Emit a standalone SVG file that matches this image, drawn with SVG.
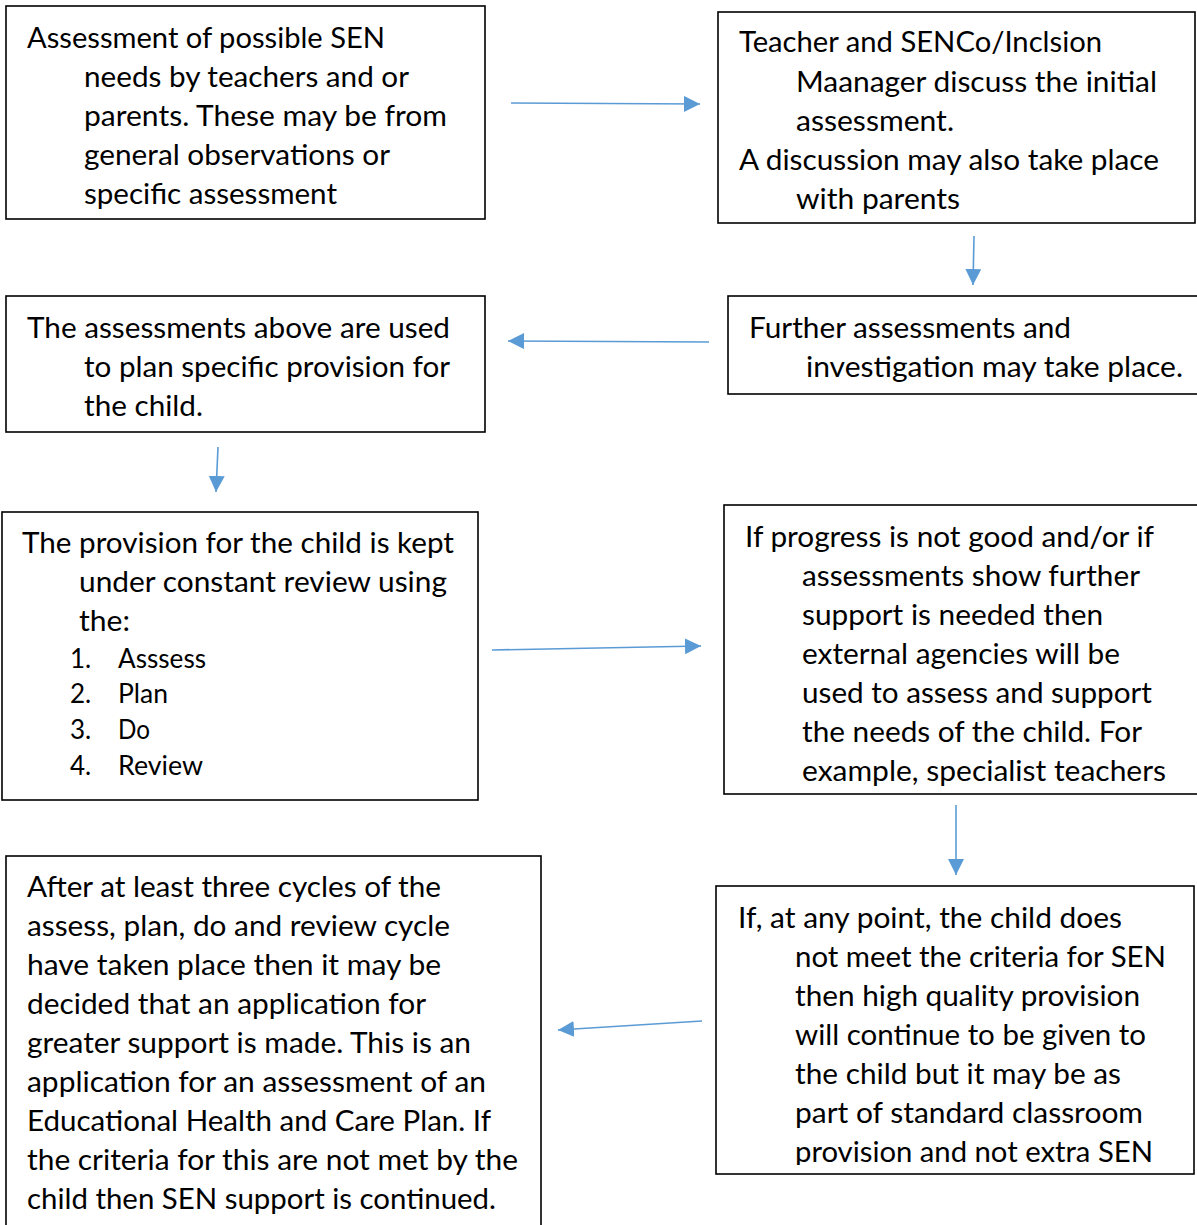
<svg xmlns="http://www.w3.org/2000/svg" width="1197" height="1225" viewBox="0 0 1197 1225">
<style>
.box{fill:#fff;stroke:#000;stroke-width:1.6}
text{font-family:Lato,"Open Sans",sans-serif;font-size:28px;fill:#000}
.li{font-size:26px}
.conn{stroke:#5B9BD5;stroke-width:1.6;fill:none;marker-end:url(#ah)}
</style>
<defs>
<marker id="ah" markerUnits="userSpaceOnUse" markerWidth="16" markerHeight="16" refX="16" refY="8" orient="auto">
<path d="M0,0 L16,8 L0,16 z" fill="#5B9BD5"/>
</marker>
<clipPath id="c6"><rect x="724" y="505" width="480" height="281"/></clipPath>
<clipPath id="c8"><rect x="716" y="886" width="480" height="279"/></clipPath>
<clipPath id="c7"><rect x="6" y="856" width="536" height="369"/></clipPath>
</defs>
<rect width="1197" height="1225" fill="#fff"/>

<g id="n1">
<rect class="box" x="6" y="6" width="479" height="213"/>
<text x="27" y="48" textLength="358" lengthAdjust="spacingAndGlyphs">Assessment of possible SEN</text>
<text x="84" y="87" textLength="325" lengthAdjust="spacingAndGlyphs">needs by teachers and or</text>
<text x="84" y="126" textLength="363" lengthAdjust="spacingAndGlyphs">parents. These may be from</text>
<text x="84" y="165" textLength="306" lengthAdjust="spacingAndGlyphs">general observations or</text>
<text x="84" y="204" textLength="253" lengthAdjust="spacingAndGlyphs">specific assessment</text>
</g>

<g id="n2">
<rect class="box" x="718" y="12" width="477" height="211"/>
<text x="739" y="52" textLength="363" lengthAdjust="spacingAndGlyphs">Teacher and SENCo/Inclsion</text>
<text x="796" y="92" textLength="361" lengthAdjust="spacingAndGlyphs">Maanager discuss the initial</text>
<text x="796" y="131" textLength="158" lengthAdjust="spacingAndGlyphs">assessment.</text>
<text x="739" y="170" textLength="420" lengthAdjust="spacingAndGlyphs">A discussion may also take place</text>
<text x="796" y="209" textLength="164" lengthAdjust="spacingAndGlyphs">with parents</text>
</g>

<g id="n3">
<rect class="box" x="728" y="296" width="472" height="98"/>
<text x="749" y="338" textLength="322" lengthAdjust="spacingAndGlyphs">Further assessments and</text>
<text x="806" y="377" textLength="377" lengthAdjust="spacingAndGlyphs">investigation may take place.</text>
</g>

<g id="n4">
<rect class="box" x="6" y="296" width="479" height="136"/>
<text x="27" y="338" textLength="423" lengthAdjust="spacingAndGlyphs">The assessments above are used</text>
<text x="84" y="377" textLength="366" lengthAdjust="spacingAndGlyphs">to plan specific provision for</text>
<text x="84" y="416" textLength="119" lengthAdjust="spacingAndGlyphs">the child.</text>
</g>

<g id="n5">
<rect class="box" x="2" y="512" width="476" height="288"/>
<text x="22" y="553" textLength="432" lengthAdjust="spacingAndGlyphs">The provision for the child is kept</text>
<text x="79" y="592" textLength="368" lengthAdjust="spacingAndGlyphs">under constant review using</text>
<text x="79" y="631" textLength="51" lengthAdjust="spacingAndGlyphs">the:</text>
<text class="li" x="70" y="668">1.</text><text class="li" x="118" y="668" textLength="88" lengthAdjust="spacingAndGlyphs">Asssess</text>
<text class="li" x="70" y="703">2.</text><text class="li" x="118" y="703" textLength="50" lengthAdjust="spacingAndGlyphs">Plan</text>
<text class="li" x="70" y="739">3.</text><text class="li" x="118" y="739" textLength="32" lengthAdjust="spacingAndGlyphs">Do</text>
<text class="li" x="70" y="775">4.</text><text class="li" x="118" y="775" textLength="85" lengthAdjust="spacingAndGlyphs">Review</text>
</g>

<g id="n6">
<rect class="box" x="724" y="505" width="476" height="289"/>
<g clip-path="url(#c6)">
<text x="745" y="547" textLength="409" lengthAdjust="spacingAndGlyphs">If progress is not good and/or if</text>
<text x="802" y="586" textLength="338" lengthAdjust="spacingAndGlyphs">assessments show further</text>
<text x="802" y="625" textLength="301" lengthAdjust="spacingAndGlyphs">support is needed then</text>
<text x="802" y="664" textLength="318" lengthAdjust="spacingAndGlyphs">external agencies will be</text>
<text x="802" y="703" textLength="350" lengthAdjust="spacingAndGlyphs">used to assess and support</text>
<text x="802" y="742" textLength="340" lengthAdjust="spacingAndGlyphs">the needs of the child. For</text>
<text x="802" y="781" textLength="364" lengthAdjust="spacingAndGlyphs">example, specialist teachers</text>
</g>
</g>

<g id="n7">
<rect class="box" x="6" y="856" width="535" height="380"/>
<g clip-path="url(#c7)">
<text x="27" y="897" textLength="414" lengthAdjust="spacingAndGlyphs">After at least three cycles of the</text>
<text x="27" y="936" textLength="423" lengthAdjust="spacingAndGlyphs">assess, plan, do and review cycle</text>
<text x="27" y="975" textLength="414" lengthAdjust="spacingAndGlyphs">have taken place then it may be</text>
<text x="27" y="1014" textLength="399" lengthAdjust="spacingAndGlyphs">decided that an application for</text>
<text x="27" y="1053" textLength="444" lengthAdjust="spacingAndGlyphs">greater support is made. This is an</text>
<text x="27" y="1092" textLength="459" lengthAdjust="spacingAndGlyphs">application for an assessment of an</text>
<text x="27" y="1131" textLength="464" lengthAdjust="spacingAndGlyphs">Educational Health and Care Plan. If</text>
<text x="27" y="1170" textLength="491" lengthAdjust="spacingAndGlyphs">the criteria for this are not met by the</text>
<text x="27" y="1209" textLength="469" lengthAdjust="spacingAndGlyphs">child then SEN support is continued.</text>
</g>
</g>

<g id="n8">
<rect class="box" x="716" y="886" width="478" height="288"/>
<g clip-path="url(#c8)">
<text x="738" y="928" textLength="384" lengthAdjust="spacingAndGlyphs">If, at any point, the child does</text>
<text x="795" y="967" textLength="371" lengthAdjust="spacingAndGlyphs">not meet the criteria for SEN</text>
<text x="795" y="1006" textLength="345" lengthAdjust="spacingAndGlyphs">then high quality provision</text>
<text x="795" y="1045" textLength="351" lengthAdjust="spacingAndGlyphs">will continue to be given to</text>
<text x="795" y="1084" textLength="326" lengthAdjust="spacingAndGlyphs">the child but it may be as</text>
<text x="795" y="1123" textLength="348" lengthAdjust="spacingAndGlyphs">part of standard classroom</text>
<text x="795" y="1162" textLength="358" lengthAdjust="spacingAndGlyphs">provision and not extra SEN</text>
</g>
</g>

<g id="connectors">
<line class="conn" x1="511" y1="103" x2="700" y2="104"/>
<line class="conn" x1="974" y1="236" x2="973" y2="285"/>
<line class="conn" x1="709" y1="342" x2="508" y2="341"/>
<line class="conn" x1="218" y1="447" x2="216" y2="492"/>
<line class="conn" x1="492" y1="650" x2="701" y2="646"/>
<line class="conn" x1="956" y1="805" x2="956" y2="875"/>
<line class="conn" x1="702" y1="1021" x2="558" y2="1030"/>
</g>
</svg>
